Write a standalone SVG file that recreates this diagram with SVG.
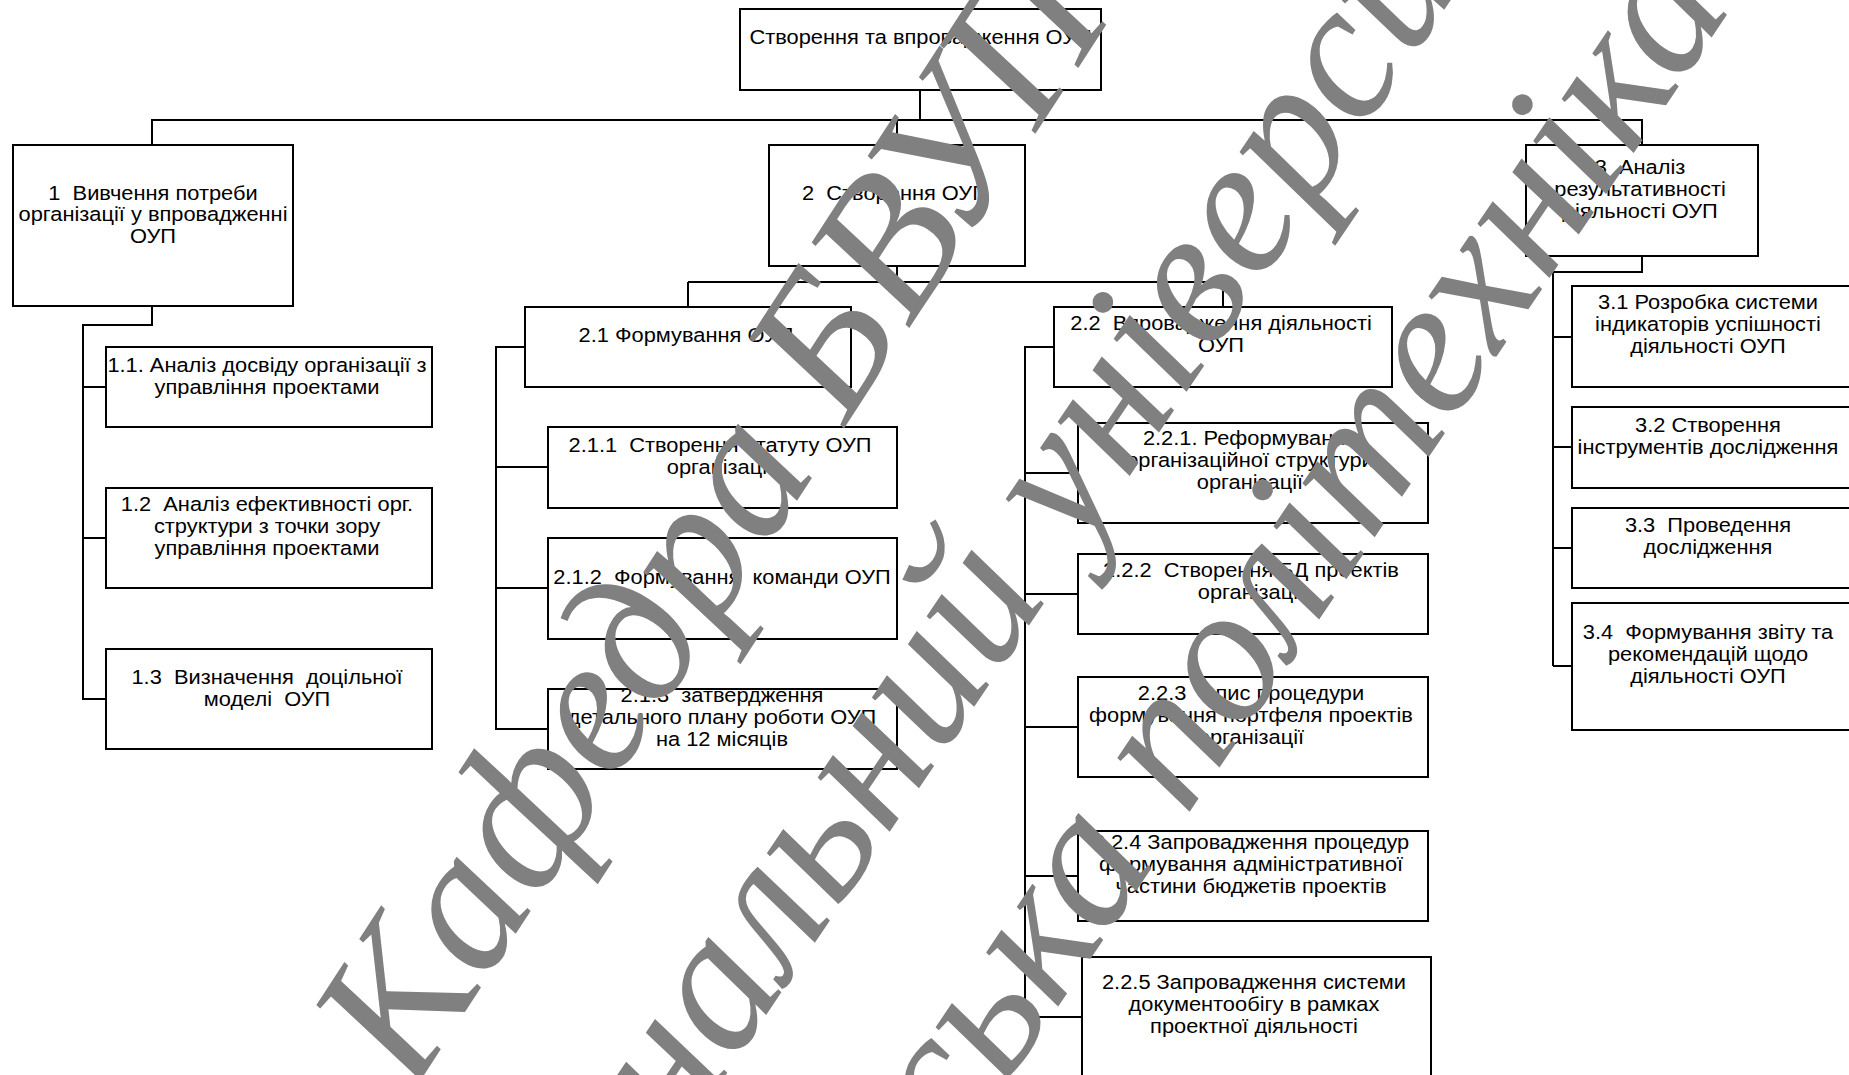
<svg xmlns="http://www.w3.org/2000/svg" width="1849" height="1075" viewBox="0 0 1849 1075">
<style>
.box{fill:#fff;stroke:#000;stroke-width:2}
.con{fill:none;stroke:#000;stroke-width:2}
.t{font-family:"Liberation Sans",Arial,sans-serif;font-size:19.5px;fill:#000;text-anchor:middle}
.wm{font-family:"Liberation Serif","Times New Roman",serif;font-style:italic;font-size:196px;fill:#808080;text-anchor:middle}
</style>
<rect width="1849" height="1075" fill="#fff"/>
<g id="connectors">
<path class="con" d="M920,90V120M152,145V120H1642V272H1553V666M897,120V145"/>
<path class="con" d="M152,306V325H83V699H106M83,387H106M83,538H106"/>
<path class="con" d="M897,266V282M688,282H1223M688,282V307M1223,282V307"/>
<path class="con" d="M525,347H496V729H548M496,467H548M496,588H548"/>
<path class="con" d="M1054,347H1025V1017H1082M1025,473H1078M1025,594H1078M1025,727H1078M1025,876H1078"/>
<path class="con" d="M1553,337H1572M1553,447H1572M1553,548H1572M1553,666H1572"/>
</g>
<g id="n0"><rect class="box" x="740" y="9" width="361" height="81"/><text class="t" xml:space="preserve" transform="matrix(1.12 0 0 1 920.5 0)"><tspan x="0" y="44">Створення та впровадження ОУП</tspan></text></g>
<g id="n1"><rect class="box" x="13" y="145" width="280" height="161"/><text class="t" xml:space="preserve" transform="matrix(1.12 0 0 1 153 0)"><tspan x="0" y="200">1  Вивчення потреби</tspan><tspan x="0" y="221">організації у впровадженні</tspan><tspan x="0" y="243">ОУП</tspan></text></g>
<g id="n2"><rect class="box" x="769" y="145" width="256" height="121"/><text class="t" xml:space="preserve" transform="matrix(1.12 0 0 1 895 0)"><tspan x="0" y="200">2  Створення ОУП</tspan></text></g>
<g id="n3"><rect class="box" x="1526" y="145" width="232" height="111"/><text class="t" xml:space="preserve" transform="matrix(1.12 0 0 1 1640 0)"><tspan x="0" y="174">3  Аналіз</tspan><tspan x="0" y="196">результативності</tspan><tspan x="0" y="218">діяльності ОУП</tspan></text></g>
<g id="n11"><rect class="box" x="106" y="347" width="326" height="80"/><text class="t" xml:space="preserve" transform="matrix(1.12 0 0 1 267 0)"><tspan x="0" y="372">1.1. Аналіз досвіду організації з</tspan><tspan x="0" y="394">управління проектами</tspan></text></g>
<g id="n12"><rect class="box" x="106" y="488" width="326" height="100"/><text class="t" xml:space="preserve" transform="matrix(1.12 0 0 1 267 0)"><tspan x="0" y="511">1.2  Аналіз ефективності орг.</tspan><tspan x="0" y="533">структури з точки зору</tspan><tspan x="0" y="555">управління проектами</tspan></text></g>
<g id="n13"><rect class="box" x="106" y="649" width="326" height="100"/><text class="t" xml:space="preserve" transform="matrix(1.12 0 0 1 267 0)"><tspan x="0" y="684">1.3  Визначення  доцільної</tspan><tspan x="0" y="706">моделі  ОУП</tspan></text></g>
<g id="n21"><rect class="box" x="525" y="307" width="326" height="80"/><text class="t" xml:space="preserve" transform="matrix(1.12 0 0 1 686 0)"><tspan x="0" y="342">2.1 Формування ОУП</tspan></text></g>
<g id="n211"><rect class="box" x="548" y="427" width="349" height="81"/><text class="t" xml:space="preserve" transform="matrix(1.12 0 0 1 720 0)"><tspan x="0" y="452">2.1.1  Створення статуту ОУП</tspan><tspan x="0" y="474">організації</tspan></text></g>
<g id="n212"><rect class="box" x="548" y="538" width="349" height="101"/><text class="t" xml:space="preserve" transform="matrix(1.12 0 0 1 722 0)"><tspan x="0" y="584">2.1.2  Формування  команди ОУП</tspan></text></g>
<g id="n213"><rect class="box" x="548" y="689" width="349" height="80"/><text class="t" xml:space="preserve" transform="matrix(1.12 0 0 1 722 0)"><tspan x="0" y="702">2.1.3  затвердження</tspan><tspan x="0" y="724">детального плану роботи ОУП</tspan><tspan x="0" y="746">на 12 місяців</tspan></text></g>
<g id="n22"><rect class="box" x="1054" y="307" width="338" height="80"/><text class="t" xml:space="preserve" transform="matrix(1.12 0 0 1 1221 0)"><tspan x="0" y="330">2.2  Впровадження діяльності</tspan><tspan x="0" y="352">ОУП</tspan></text></g>
<g id="n221"><rect class="box" x="1078" y="423" width="350" height="100"/><text class="t" xml:space="preserve" transform="matrix(1.12 0 0 1 1250 0)"><tspan x="0" y="445">2.2.1. Реформування</tspan><tspan x="0" y="467">організаційної структури</tspan><tspan x="0" y="489">організації</tspan></text></g>
<g id="n222"><rect class="box" x="1078" y="554" width="350" height="80"/><text class="t" xml:space="preserve" transform="matrix(1.12 0 0 1 1251 0)"><tspan x="0" y="577">2.2.2  Створення БД проектів</tspan><tspan x="0" y="599">організації</tspan></text></g>
<g id="n223"><rect class="box" x="1078" y="677" width="350" height="100"/><text class="t" xml:space="preserve" transform="matrix(1.12 0 0 1 1251 0)"><tspan x="0" y="700">2.2.3  Опис процедури</tspan><tspan x="0" y="722">формування портфеля проектів</tspan><tspan x="0" y="744">організації</tspan></text></g>
<g id="n224"><rect class="box" x="1078" y="831" width="350" height="90"/><text class="t" xml:space="preserve" transform="matrix(1.12 0 0 1 1251 0)"><tspan x="0" y="849">2.2.4 Запровадження процедур</tspan><tspan x="0" y="871">формування адміністративної</tspan><tspan x="0" y="893">частини бюджетів проектів</tspan></text></g>
<g id="n225"><rect class="box" x="1082" y="957" width="349" height="123"/><text class="t" xml:space="preserve" transform="matrix(1.12 0 0 1 1254 0)"><tspan x="0" y="989">2.2.5 Запровадження системи</tspan><tspan x="0" y="1011">документообігу в рамках</tspan><tspan x="0" y="1033">проектної діяльності</tspan></text></g>
<g id="n31"><rect class="box" x="1572" y="286" width="290" height="101"/><text class="t" xml:space="preserve" transform="matrix(1.12 0 0 1 1708 0)"><tspan x="0" y="309">3.1 Розробка системи</tspan><tspan x="0" y="331">індикаторів успішності</tspan><tspan x="0" y="353">діяльності ОУП</tspan></text></g>
<g id="n32"><rect class="box" x="1572" y="407" width="290" height="81"/><text class="t" xml:space="preserve" transform="matrix(1.12 0 0 1 1708 0)"><tspan x="0" y="432">3.2 Створення</tspan><tspan x="0" y="454">інструментів дослідження</tspan></text></g>
<g id="n33"><rect class="box" x="1572" y="508" width="290" height="80"/><text class="t" xml:space="preserve" transform="matrix(1.12 0 0 1 1708 0)"><tspan x="0" y="532">3.3  Проведення</tspan><tspan x="0" y="554">дослідження</tspan></text></g>
<g id="n34"><rect class="box" x="1572" y="603" width="290" height="127"/><text class="t" xml:space="preserve" transform="matrix(1.12 0 0 1 1708 0)"><tspan x="0" y="639">3.4  Формування звіту та</tspan><tspan x="0" y="661">рекомендацій щодо</tspan><tspan x="0" y="683">діяльності ОУП</tspan></text></g>
<g id="watermark">
<text class="wm" style="text-anchor:start" transform="translate(413,1092) rotate(-57)">Кафедра БВУП</text>
<text class="wm" transform="translate(1038,612) rotate(-56)">Національний університет</text>
<text class="wm" transform="translate(1221,765) rotate(-56)">Львівська політехніка</text>
</g>
</svg>
